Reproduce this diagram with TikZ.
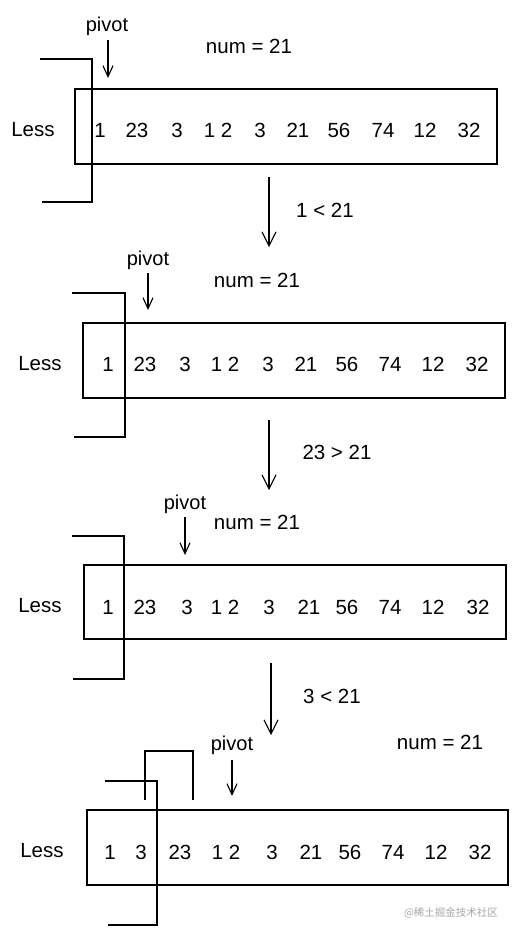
\documentclass[tikz,border=0pt]{standalone}
\usepackage{fontspec}
\setmainfont{Liberation Sans}
\newfontfamily\cjk{Noto Sans CJK SC}
\usetikzlibrary{arrows.meta}
\begin{document}
\begin{tikzpicture}[x=1pt,y=-1pt,line width=1.1pt,
  txt/.style={font=\fontsize{20.5}{24}\selectfont,inner sep=0pt,anchor=center,text height=0.7em,text depth=0pt,yshift=-3.5pt},
  ptxt/.style={font=\fontsize{20}{24}\selectfont,inner sep=0pt,anchor=center,yshift=-2pt},
  arrbox/.style={draw,inner sep=0pt},
  bigarr/.style={-{Straight Barb[length=14pt,width=14pt,line width=1.1pt]}},
  smallarr/.style={-{Straight Barb[length=11pt,width=10pt,line width=1.1pt]}}]
\useasboundingbox (0,0) rectangle (517,935);

% ---------- Panel 1 ----------
\node[ptxt] (pv1) at (107,24) {pivot};
\coordinate (pt1) at (108,78);
\draw[smallarr] (108,40) -- (pt1);
\node[txt] (num1) at (249,46) {num = 21};
\node[arrbox,minimum width=422pt,minimum height=75pt] (box1) at (286,126.5) {};
\draw (40,59) -- (92,59) -- (92,202) -- (42,202);
\node[txt] (less1) at (33,129) {Less};
\foreach \x/\t [count=\i] in {100/1,137/23,177/3,218/1 2,260/3,298/21,339/56,383/74,425/12,469/32}
  \node[txt] (a1n\i) at (\x,130) {\t};
\coordinate (d1s) at (269,177);
\coordinate (d1e) at (269,247);
\draw[bigarr] (d1s) -- (d1e);
\node[txt] (c1) at (325,210) {1 < 21};

% ---------- Panel 2 ----------
\node[ptxt] (pv2) at (148,258) {pivot};
\coordinate (pt2) at (148,310);
\draw[smallarr] (148,273) -- (pt2);
\node[txt] (num2) at (257,280) {num = 21};
\node[arrbox,minimum width=422pt,minimum height=75pt] (box2) at (294,360.5) {};
\draw (72,293) -- (125,293) -- (125,437) -- (74,437);
\node[txt] (less2) at (40,363) {Less};
\foreach \x/\t [count=\i] in {108/1,145/23,185/3,225/1 2,268/3,306/21,347/56,390/74,433/12,477/32}
  \node[txt] (a2n\i) at (\x,364) {\t};
\coordinate (d2s) at (269,420);
\coordinate (d2e) at (269,490);
\draw[bigarr] (d2s) -- (d2e);
\node[txt] (c2) at (337,452) {23 > 21};

% ---------- Panel 3 ----------
\node[ptxt] (pv3) at (185,502) {pivot};
\coordinate (pt3) at (185,555);
\draw[smallarr] (185,517) -- (pt3);
\node[txt] (num3) at (257,522) {num = 21};
\node[arrbox,minimum width=422pt,minimum height=74pt] (box3) at (295,602) {};
\draw (72,536) -- (124,536) -- (124,679) -- (73,679);
\node[txt] (less3) at (40,605) {Less};
\foreach \x/\t [count=\i] in {108/1,145/23,187/3,225/1 2,269/3,309/21,347/56,390/74,433/12,478/32}
  \node[txt] (a3n\i) at (\x,607) {\t};
\coordinate (d3s) at (271,663);
\coordinate (d3e) at (271,735);
\draw[bigarr] (d3s) -- (d3e);
\node[txt] (c3) at (332,696) {3 < 21};

% ---------- Panel 4 ----------
\node[ptxt] (pv4) at (232,743) {pivot};
\coordinate (pt4) at (232,796);
\draw[smallarr] (232,760) -- (pt4);
\node[txt] (num4) at (440,742) {num = 21};
\node[arrbox,minimum width=421pt,minimum height=75pt] (box4) at (297.5,847.5) {};
\draw (105,781) -- (157,781) -- (157,925) -- (108,925);
\draw (145,800) -- (145,751) -- (193,751) -- (193,800);
\node[txt] (less4) at (42,850) {Less};
\foreach \x/\t [count=\i] in {110/1,141/3,180/23,226/1 2,272/3,311/21,350/56,393/74,436/12,480/32}
  \node[txt] (a4n\i) at (\x,852) {\t};

\node[font=\cjk\fontsize{10.5}{12}\selectfont,text=black!35,inner sep=0pt] (wm) at (451,913) {@稀土掘金技术社区};
\end{tikzpicture}
\end{document}
